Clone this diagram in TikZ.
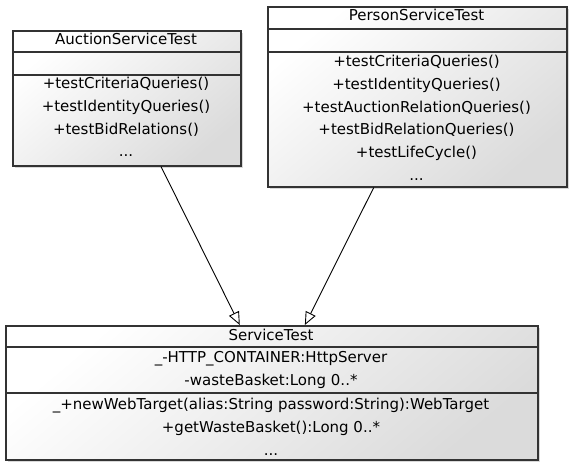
\documentclass[tikz,border=0pt]{standalone}
\usepackage{fontspec}
\setmainfont{DejaVu Sans}
\usetikzlibrary{arrows.meta,shadows,calc}

\begin{document}
\begin{tikzpicture}[x=1pt, y=-1pt, >={Triangle[open,length=13pt,width=11pt]},
	classbox/.style={draw=black!80, line width=1.6pt, inner sep=0pt, anchor=north west,
		top color=white, bottom color=black!14, shading angle=40,
		drop shadow={shadow xshift=2.5pt, shadow yshift=-2.5pt, fill=black, opacity=0.15}},
	divider/.style={draw=black!80, line width=1.3pt},
	member/.style={font=\fontsize{15}{18}\selectfont, inner sep=0pt, anchor=base},
	inherit/.style={->, line width=0.9pt, black}]
	% Fix the page
	\useasboundingbox (0,0) rectangle (573,468);
	
	% Draw the class boxes
	\node[classbox, minimum width=228pt, minimum height=135pt] (auc) at (12,30) {};
	\node[classbox, minimum width=299pt, minimum height=180pt] (per) at (267,6) {};
	\node[classbox, minimum width=532pt, minimum height=134pt] (srv) at (5,325) {};
	
	% Draw the compartment lines
	\draw[divider] ($(auc.north west)+(0,22)$) -- ($(auc.north east)+(0,22)$);
	\draw[divider] ($(auc.north west)+(0,45)$) -- ($(auc.north east)+(0,45)$);
	\draw[divider] ($(per.north west)+(0,23)$) -- ($(per.north east)+(0,23)$);
	\draw[divider] ($(per.north west)+(0,46)$) -- ($(per.north east)+(0,46)$);
	\draw[divider] ($(srv.north west)+(0,22)$) -- ($(srv.north east)+(0,22)$);
	\draw[divider] ($(srv.north west)+(0,68)$) -- ($(srv.north east)+(0,68)$);
	
	% AuctionServiceTest
	\node[member] (auc-name) at (126,45) {AuctionServiceTest};
	\foreach \txt [count=\i] in {+testCriteriaQueries(), +testIdentityQueries(), +testBidRelations()}
	{
		\node[member] (auc-op\i) at (126,{89+22.7*(\i-1)}) {\txt};
	}
	\node[member] (auc-more) at (126,157) {...};
	
	% PersonServiceTest
	\node[member] (per-name) at (416.5,21) {PersonServiceTest};
	\foreach \txt [count=\i] in {+testCriteriaQueries(), +testIdentityQueries(), +testAuctionRelationQueries(), +testBidRelationQueries(), +testLifeCycle()}
	{
		\node[member] (per-op\i) at (416.5,{67+22.6*(\i-1)}) {\txt};
	}
	\node[member] (per-more) at (416.5,180) {...};
	
	% ServiceTest
	\node[member] (srv-name) at (271,340) {ServiceTest};
	\node[member] (srv-at1) at (271,362) {\_-HTTP\_CONTAINER:HttpServer};
	\node[member] (srv-at2) at (271,385) {-wasteBasket:Long 0..*};
	\node[member] (srv-op1) at (271,409) {\_+newWebTarget(alias:String password:String):WebTarget};
	\node[member] (srv-op2) at (271,432) {+getWasteBasket():Long 0..*};
	\node[member] (srv-more) at (271,455) {...};
	
	% Draw the generalizations
	\draw[inherit] ($(auc.south west)!0.649!(auc.south east)$) -- ($(srv.north west)!0.44!(srv.north east)$);
	\draw[inherit] ($(per.south west)!0.355!(per.south east)$) -- ($(srv.north west)!0.562!(srv.north east)$);
	
\end{tikzpicture}
\end{document}
